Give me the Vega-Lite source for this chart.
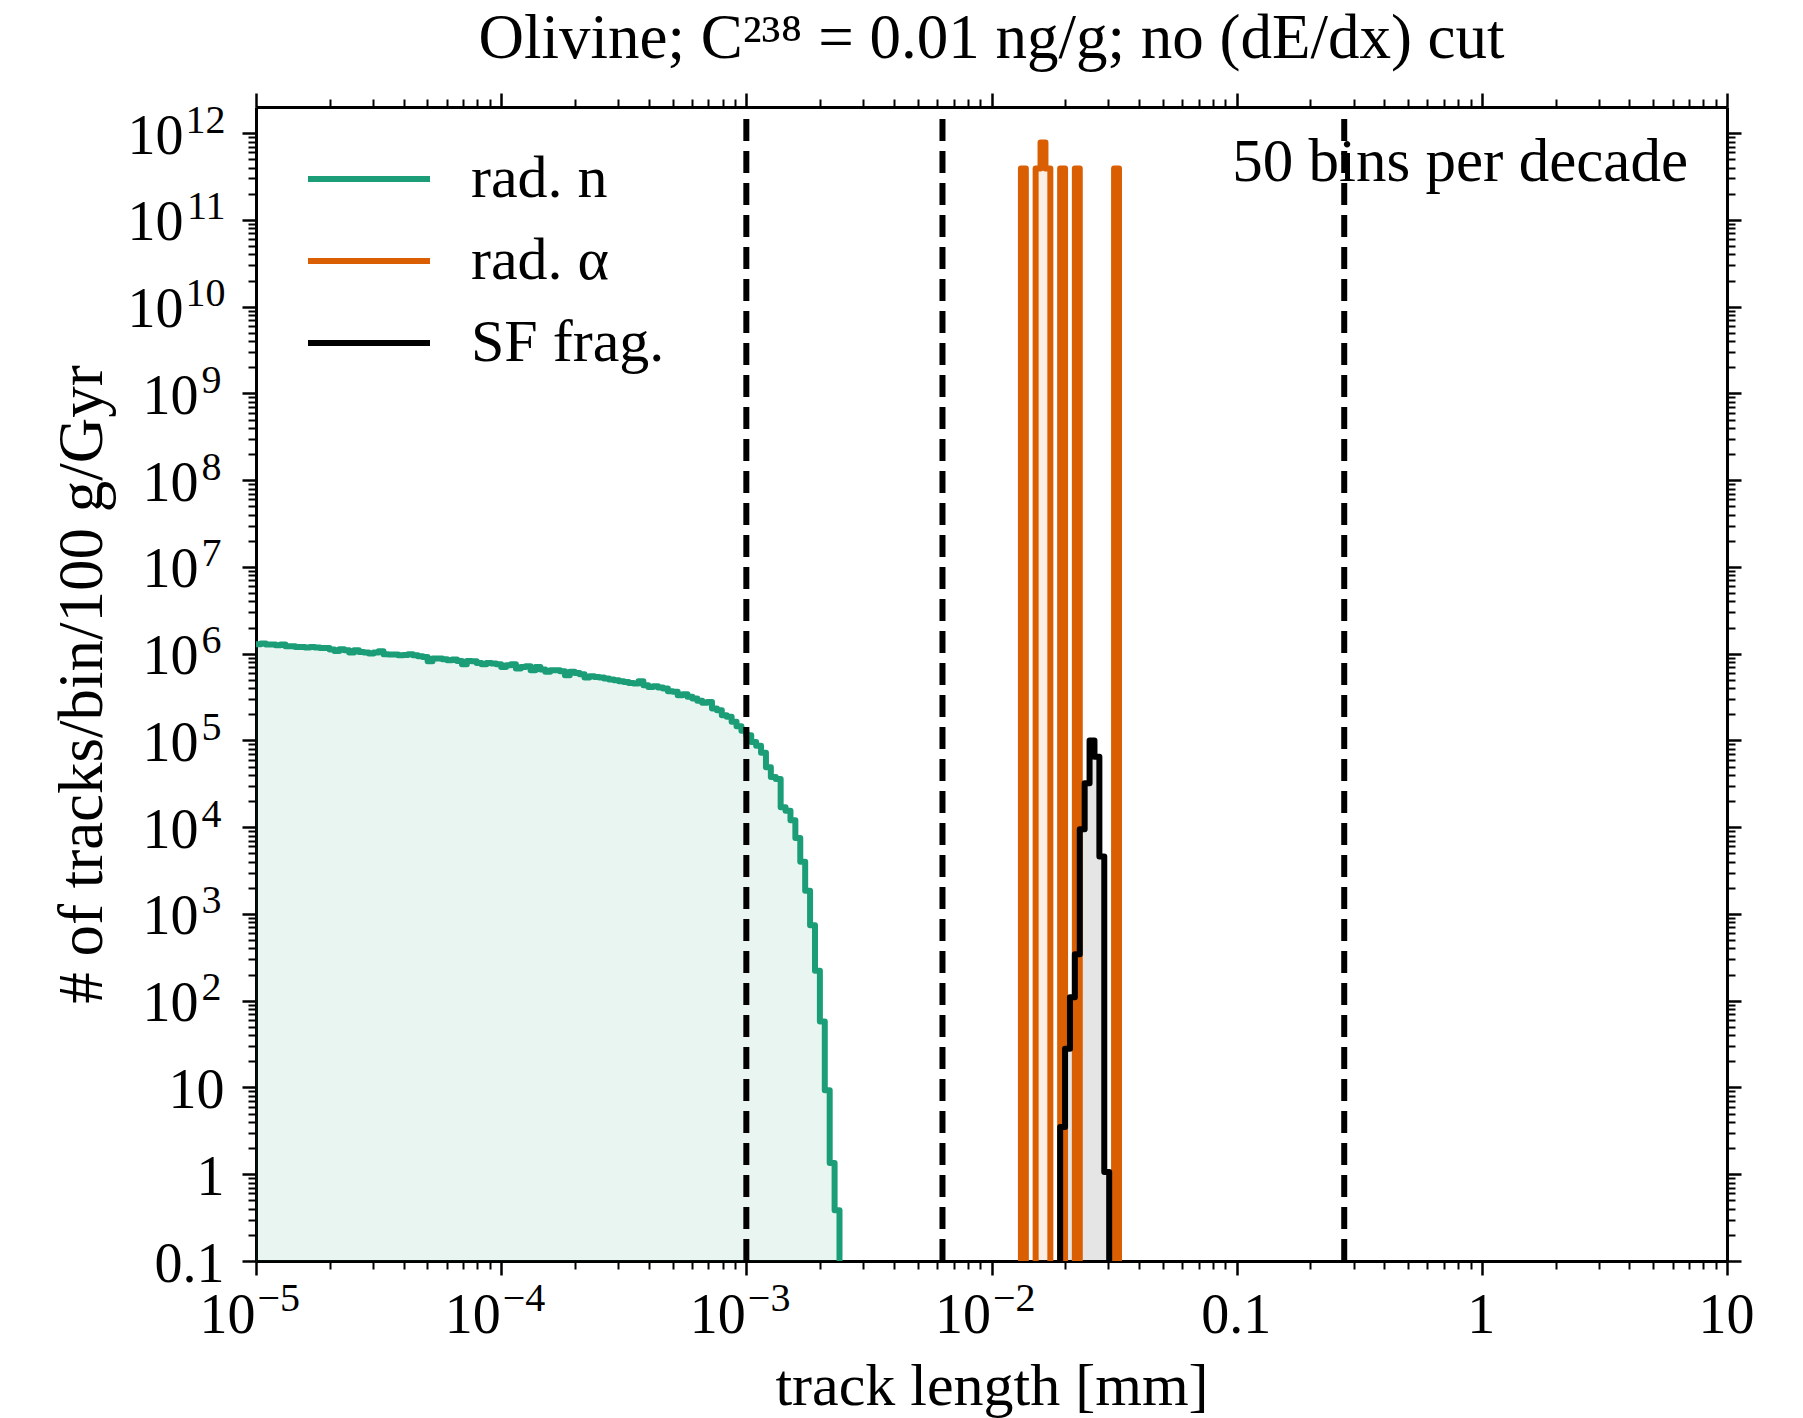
{
  "$schema": "https://vega.github.io/schema/vega-lite/v6.json",
  "width": 1471,
  "height": 1154,
  "autosize": {"type": "none"},
  "padding": {"left": 256, "top": 107, "right": 76, "bottom": 157},
  "background": "white",
  "title": {"text": "Olivine; C²³⁸ = 0.01 ng/g; no (dE/dx) cut", "font": "Liberation Serif", "fontSize": 63, "fontWeight": "normal", "color": "black", "anchor": "middle", "frame": "group", "baseline": "alphabetic", "offset": -29},
  "config": {
    "view": {"stroke": null},
    "axis": {"grid": false, "zindex": 1, "tickColor": "black", "domainColor": "black", "labelColor": "black", "labelFont": "Liberation Serif", "labelFlush": false, "labelOverlap": false, "tickWidth": 2.5, "domainWidth": 3, "titleFont": "Liberation Serif", "titleFontWeight": "normal", "titleColor": "black", "labelLimit": 400}
  },
  "datasets": {
    "hist": [
      {"s": "rad. n", "x": 1.0000e-5, "y": 1.285e6},
      {"s": "rad. n", "x": 1.0471e-5, "y": 1.307e6},
      {"s": "rad. n", "x": 1.0965e-5, "y": 1.273e6},
      {"s": "rad. n", "x": 1.1482e-5, "y": 1.273e6},
      {"s": "rad. n", "x": 1.2023e-5, "y": 1.251e6},
      {"s": "rad. n", "x": 1.2589e-5, "y": 1.273e6},
      {"s": "rad. n", "x": 1.3183e-5, "y": 1.218e6},
      {"s": "rad. n", "x": 1.3804e-5, "y": 1.218e6},
      {"s": "rad. n", "x": 1.4454e-5, "y": 1.197e6},
      {"s": "rad. n", "x": 1.5136e-5, "y": 1.197e6},
      {"s": "rad. n", "x": 1.5849e-5, "y": 1.176e6},
      {"s": "rad. n", "x": 1.6596e-5, "y": 1.197e6},
      {"s": "rad. n", "x": 1.7378e-5, "y": 1.176e6},
      {"s": "rad. n", "x": 1.8197e-5, "y": 1.165e6},
      {"s": "rad. n", "x": 1.9055e-5, "y": 1.165e6},
      {"s": "rad. n", "x": 1.9953e-5, "y": 1.115e6},
      {"s": "rad. n", "x": 2.0893e-5, "y": 1.076e6},
      {"s": "rad. n", "x": 2.1878e-5, "y": 1.125e6},
      {"s": "rad. n", "x": 2.2909e-5, "y": 1.095e6},
      {"s": "rad. n", "x": 2.3988e-5, "y": 1.029e6},
      {"s": "rad. n", "x": 2.5119e-5, "y": 1.095e6},
      {"s": "rad. n", "x": 2.6303e-5, "y": 1.048e6},
      {"s": "rad. n", "x": 2.7542e-5, "y": 1.029e6},
      {"s": "rad. n", "x": 2.8840e-5, "y": 1.003e6},
      {"s": "rad. n", "x": 3.0200e-5, "y": 1.029e6},
      {"s": "rad. n", "x": 3.1623e-5, "y": 1.067e6},
      {"s": "rad. n", "x": 3.3113e-5, "y": 9.85e5},
      {"s": "rad. n", "x": 3.4674e-5, "y": 9.76e5},
      {"s": "rad. n", "x": 3.6308e-5, "y": 9.76e5},
      {"s": "rad. n", "x": 3.8019e-5, "y": 9.59e5},
      {"s": "rad. n", "x": 3.9811e-5, "y": 9.67e5},
      {"s": "rad. n", "x": 4.1687e-5, "y": 9.85e5},
      {"s": "rad. n", "x": 4.3652e-5, "y": 9.59e5},
      {"s": "rad. n", "x": 4.5709e-5, "y": 9.34e5},
      {"s": "rad. n", "x": 4.7863e-5, "y": 9.18e5},
      {"s": "rad. n", "x": 5.0119e-5, "y": 8.18e5},
      {"s": "rad. n", "x": 5.2481e-5, "y": 8.78e5},
      {"s": "rad. n", "x": 5.4954e-5, "y": 8.78e5},
      {"s": "rad. n", "x": 5.7544e-5, "y": 8.63e5},
      {"s": "rad. n", "x": 6.0256e-5, "y": 8.40e5},
      {"s": "rad. n", "x": 6.3096e-5, "y": 8.55e5},
      {"s": "rad. n", "x": 6.6069e-5, "y": 8.25e5},
      {"s": "rad. n", "x": 6.9183e-5, "y": 7.55e5},
      {"s": "rad. n", "x": 7.2444e-5, "y": 8.25e5},
      {"s": "rad. n", "x": 7.5858e-5, "y": 8.18e5},
      {"s": "rad. n", "x": 7.9433e-5, "y": 7.82e5},
      {"s": "rad. n", "x": 8.3176e-5, "y": 7.55e5},
      {"s": "rad. n", "x": 8.7096e-5, "y": 7.82e5},
      {"s": "rad. n", "x": 9.1201e-5, "y": 7.69e5},
      {"s": "rad. n", "x": 9.5499e-5, "y": 7.55e5},
      {"s": "rad. n", "x": 1.0000e-4, "y": 7.04e5},
      {"s": "rad. n", "x": 1.0471e-4, "y": 7.36e5},
      {"s": "rad. n", "x": 1.0965e-4, "y": 7.55e5},
      {"s": "rad. n", "x": 1.1482e-4, "y": 6.74e5},
      {"s": "rad. n", "x": 1.2023e-4, "y": 7.04e5},
      {"s": "rad. n", "x": 1.2589e-4, "y": 7.17e5},
      {"s": "rad. n", "x": 1.3183e-4, "y": 6.45e5},
      {"s": "rad. n", "x": 1.3804e-4, "y": 7.04e5},
      {"s": "rad. n", "x": 1.4454e-4, "y": 6.56e5},
      {"s": "rad. n", "x": 1.5136e-4, "y": 6.17e5},
      {"s": "rad. n", "x": 1.5849e-4, "y": 6.45e5},
      {"s": "rad. n", "x": 1.6596e-4, "y": 6.45e5},
      {"s": "rad. n", "x": 1.7378e-4, "y": 6.28e5},
      {"s": "rad. n", "x": 1.8197e-4, "y": 5.64e5},
      {"s": "rad. n", "x": 1.9055e-4, "y": 6.17e5},
      {"s": "rad. n", "x": 1.9953e-4, "y": 6.00e5},
      {"s": "rad. n", "x": 2.0893e-4, "y": 5.79e5},
      {"s": "rad. n", "x": 2.1878e-4, "y": 5.30e5},
      {"s": "rad. n", "x": 2.2909e-4, "y": 5.50e5},
      {"s": "rad. n", "x": 2.3988e-4, "y": 5.40e5},
      {"s": "rad. n", "x": 2.5119e-4, "y": 5.30e5},
      {"s": "rad. n", "x": 2.6303e-4, "y": 5.17e5},
      {"s": "rad. n", "x": 2.7542e-4, "y": 5.03e5},
      {"s": "rad. n", "x": 2.8840e-4, "y": 4.94e5},
      {"s": "rad. n", "x": 3.0200e-4, "y": 4.81e5},
      {"s": "rad. n", "x": 3.1623e-4, "y": 4.73e5},
      {"s": "rad. n", "x": 3.3113e-4, "y": 4.60e5},
      {"s": "rad. n", "x": 3.4674e-4, "y": 4.52e5},
      {"s": "rad. n", "x": 3.6308e-4, "y": 4.81e5},
      {"s": "rad. n", "x": 3.8019e-4, "y": 4.33e5},
      {"s": "rad. n", "x": 3.9811e-4, "y": 4.14e5},
      {"s": "rad. n", "x": 4.1687e-4, "y": 4.22e5},
      {"s": "rad. n", "x": 4.3652e-4, "y": 4.07e5},
      {"s": "rad. n", "x": 4.5709e-4, "y": 3.96e5},
      {"s": "rad. n", "x": 4.7863e-4, "y": 3.69e5},
      {"s": "rad. n", "x": 5.0119e-4, "y": 3.63e5},
      {"s": "rad. n", "x": 5.2481e-4, "y": 3.32e5},
      {"s": "rad. n", "x": 5.4954e-4, "y": 3.41e5},
      {"s": "rad. n", "x": 5.7544e-4, "y": 3.18e5},
      {"s": "rad. n", "x": 6.0256e-4, "y": 3.04e5},
      {"s": "rad. n", "x": 6.3096e-4, "y": 2.86e5},
      {"s": "rad. n", "x": 6.6069e-4, "y": 2.71e5},
      {"s": "rad. n", "x": 6.9183e-4, "y": 2.78e5},
      {"s": "rad. n", "x": 7.2444e-4, "y": 2.33e5},
      {"s": "rad. n", "x": 7.5858e-4, "y": 2.23e5},
      {"s": "rad. n", "x": 7.9433e-4, "y": 1.95e5},
      {"s": "rad. n", "x": 8.3176e-4, "y": 1.87e5},
      {"s": "rad. n", "x": 8.7096e-4, "y": 1.64e5},
      {"s": "rad. n", "x": 9.1201e-4, "y": 1.46e5},
      {"s": "rad. n", "x": 9.5499e-4, "y": 1.29e5},
      {"s": "rad. n", "x": 1.0000e-3, "y": 1.15e5},
      {"s": "rad. n", "x": 1.0471e-3, "y": 9.6e4},
      {"s": "rad. n", "x": 1.0965e-3, "y": 8.7e4},
      {"s": "rad. n", "x": 1.1482e-3, "y": 7.2e4},
      {"s": "rad. n", "x": 1.2023e-3, "y": 4.9e4},
      {"s": "rad. n", "x": 1.2589e-3, "y": 3.8e4},
      {"s": "rad. n", "x": 1.3183e-3, "y": 3.6e4},
      {"s": "rad. n", "x": 1.3804e-3, "y": 1.7e4},
      {"s": "rad. n", "x": 1.4454e-3, "y": 1.55e4},
      {"s": "rad. n", "x": 1.5136e-3, "y": 1.2e4},
      {"s": "rad. n", "x": 1.5849e-3, "y": 7.5e3},
      {"s": "rad. n", "x": 1.6596e-3, "y": 4.0e3},
      {"s": "rad. n", "x": 1.7378e-3, "y": 1.85e3},
      {"s": "rad. n", "x": 1.8197e-3, "y": 741},
      {"s": "rad. n", "x": 1.9055e-3, "y": 222},
      {"s": "rad. n", "x": 1.9953e-3, "y": 57.5},
      {"s": "rad. n", "x": 2.0893e-3, "y": 9.3},
      {"s": "rad. n", "x": 2.1878e-3, "y": 1.35},
      {"s": "rad. n", "x": 2.2909e-3, "y": 0.385},
      {"s": "rad. n", "x": 2.3988e-3, "y": 0.01},
      {"s": "rad. α", "x": 0.012589, "y": 0.01},
      {"s": "rad. α", "x": 0.013183, "y": 3.9e11},
      {"s": "rad. α", "x": 0.013804, "y": 0.01},
      {"s": "rad. α", "x": 0.015136, "y": 3.9e11},
      {"s": "rad. α", "x": 0.015849, "y": 7.8e11},
      {"s": "rad. α", "x": 0.016596, "y": 3.9e11},
      {"s": "rad. α", "x": 0.017378, "y": 0.01},
      {"s": "rad. α", "x": 0.019055, "y": 3.9e11},
      {"s": "rad. α", "x": 0.019953, "y": 0.01},
      {"s": "rad. α", "x": 0.021878, "y": 3.9e11},
      {"s": "rad. α", "x": 0.022909, "y": 0.01},
      {"s": "rad. α", "x": 0.031623, "y": 3.9e11},
      {"s": "rad. α", "x": 0.033113, "y": 0.01},
      {"s": "SF frag.", "x": 0.018197, "y": 0.01},
      {"s": "SF frag.", "x": 0.019055, "y": 3.5},
      {"s": "SF frag.", "x": 0.019953, "y": 28},
      {"s": "SF frag.", "x": 0.020893, "y": 110},
      {"s": "SF frag.", "x": 0.021878, "y": 343},
      {"s": "SF frag.", "x": 0.022909, "y": 9500},
      {"s": "SF frag.", "x": 0.023988, "y": 32000},
      {"s": "SF frag.", "x": 0.025119, "y": 100000},
      {"s": "SF frag.", "x": 0.026303, "y": 65000},
      {"s": "SF frag.", "x": 0.027542, "y": 4600},
      {"s": "SF frag.", "x": 0.028840, "y": 1.06},
      {"s": "SF frag.", "x": 0.030200, "y": 0.01}
    ],
    "cuts": [{"x": 0.001}, {"x": 0.00631}, {"x": 0.2746}],
    "note": [{"x": 6.93, "y": 2.77e11, "label": "50 bins per decade"}]
  },
  "layer": [
    {
      "data": {"name": "hist"},
      "transform": [{"filter": "datum.s === 'rad. n'"}],
      "mark": {"type": "area", "interpolate": "step-after", "color": "#1b9e77", "opacity": 0.1, "clip": true},
      "encoding": {
        "x": {"field": "x", "type": "quantitative", "scale": {"type": "log", "domain": [1e-5, 10], "nice": false},
          "axis": {"orient": "bottom", "values": [1e-5, 1e-4, 1e-3, 0.01, 0.1, 1, 10],
            "labelExpr": "datum.value < 0.05 ? '10' : (datum.value < 0.5 ? '0.1' : (datum.value < 5 ? '1' : '10'))",
            "labelAlign": {"condition": {"test": "datum.value < 0.05", "value": "right"}, "value": "center"},
            "labelBaseline": "alphabetic", "labelPadding": 57, "labelFontSize": 56, "labelOffset": -1,
            "tickSize": 14, "domain": true,
            "title": "track length [mm]", "titleFontSize": 60, "titleBaseline": "alphabetic", "titleY": 143}},
        "y": {"field": "y", "type": "quantitative", "scale": {"type": "log", "domain": [0.1, 2e12], "nice": false},
          "axis": {"orient": "left", "values": [0.1, 1, 10, 100, 1e3, 1e4, 1e5, 1e6, 1e7, 1e8, 1e9, 1e10, 1e11, 1e12],
            "labelExpr": "datum.value < 0.5 ? '0.1' : (datum.value < 5 ? '1' : '10')",
            "labelAlign": "right", "labelBaseline": "alphabetic", "labelOffset": 20, "labelFontSize": 56,
            "labelPadding": {"condition": [{"test": "datum.value >= 1e10", "value": 59}, {"test": "datum.value >= 100", "value": 44}], "value": 18},
            "tickSize": 14, "domain": true,
            "title": "# of tracks/bin/100 g/Gyr", "titleFontSize": 63, "titleBaseline": "alphabetic", "titleX": -155}},
        "y2": {"datum": 0.1}
      }
    },
    {
      "data": {"name": "hist"},
      "transform": [{"filter": "datum.s === 'rad. α'"}],
      "mark": {"type": "area", "interpolate": "step-after", "color": "#d95f02", "opacity": 0.1, "clip": true},
      "encoding": {
        "x": {"field": "x", "type": "quantitative", "scale": {"type": "log", "domain": [1e-5, 10], "nice": false},
          "axis": {"orient": "bottom", "values": [1e-5, 1e-4, 1e-3, 0.01],
            "labelExpr": "'−' + round(-log(datum.value)/LN10)",
            "labelAlign": "left", "labelBaseline": "alphabetic", "labelPadding": 35, "labelFontSize": 40, "labelOffset": 1,
            "tickSize": 14, "tickColor": "transparent", "domain": false, "title": null}},
        "y": {"field": "y", "type": "quantitative", "scale": {"type": "log", "domain": [0.1, 2e12], "nice": false},
          "axis": {"orient": "left", "values": [100, 1e3, 1e4, 1e5, 1e6, 1e7, 1e8, 1e9, 1e10, 1e11, 1e12],
            "labelExpr": "'' + round(log(datum.value)/LN10)",
            "labelAlign": "right", "labelBaseline": "alphabetic", "labelOffset": -1, "labelFontSize": 40,
            "labelPadding": {"condition": {"test": "datum.value >= 1e10", "value": 17}, "value": 21},
            "tickSize": 14, "tickColor": "transparent", "domain": false, "title": null}},
        "y2": {"datum": 0.1}
      }
    },
    {
      "data": {"name": "hist"},
      "transform": [{"filter": "datum.s === 'SF frag.'"}],
      "mark": {"type": "area", "interpolate": "step-after", "color": "#000000", "opacity": 0.1, "clip": true},
      "encoding": {
        "x": {"field": "x", "type": "quantitative", "scale": {"type": "log", "domain": [1e-5, 10], "nice": false},
          "axis": {"orient": "bottom", "values": [2e-5, 3e-5, 4e-5, 5e-5, 6e-5, 7e-5, 8e-5, 9e-5, 2e-4, 3e-4, 4e-4, 5e-4, 6e-4, 7e-4, 8e-4, 9e-4, 2e-3, 3e-3, 4e-3, 5e-3, 6e-3, 7e-3, 8e-3, 9e-3, 0.02, 0.03, 0.04, 0.05, 0.06, 0.07, 0.08, 0.09, 0.2, 0.3, 0.4, 0.5, 0.6, 0.7, 0.8, 0.9, 2, 3, 4, 5, 6, 7, 8, 9],
            "labels": false, "tickSize": 8, "tickWidth": 2, "domain": false, "title": null}},
        "y": {"field": "y", "type": "quantitative", "scale": {"type": "log", "domain": [0.1, 2e12], "nice": false},
          "axis": {"orient": "left", "values": [0.2, 0.3, 0.4, 0.5, 0.6, 0.7, 0.8, 0.9, 2, 3, 4, 5, 6, 7, 8, 9, 20, 30, 40, 50, 60, 70, 80, 90, 200, 300, 400, 500, 600, 700, 800, 900, 2e3, 3e3, 4e3, 5e3, 6e3, 7e3, 8e3, 9e3, 2e4, 3e4, 4e4, 5e4, 6e4, 7e4, 8e4, 9e4, 2e5, 3e5, 4e5, 5e5, 6e5, 7e5, 8e5, 9e5, 2e6, 3e6, 4e6, 5e6, 6e6, 7e6, 8e6, 9e6, 2e7, 3e7, 4e7, 5e7, 6e7, 7e7, 8e7, 9e7, 2e8, 3e8, 4e8, 5e8, 6e8, 7e8, 8e8, 9e8, 2e9, 3e9, 4e9, 5e9, 6e9, 7e9, 8e9, 9e9, 2e10, 3e10, 4e10, 5e10, 6e10, 7e10, 8e10, 9e10, 2e11, 3e11, 4e11, 5e11, 6e11, 7e11, 8e11, 9e11],
            "labels": false, "tickSize": 8, "tickWidth": 2, "domain": false, "title": null}},
        "y2": {"datum": 0.1}
      }
    },
    {
      "data": {"name": "hist"},
      "mark": {"type": "line", "interpolate": "step-after", "strokeWidth": 6, "strokeJoin": "round", "strokeCap": "round", "clip": true},
      "encoding": {
        "x": {"field": "x", "type": "quantitative", "scale": {"type": "log", "domain": [1e-5, 10], "nice": false},
          "axis": {"orient": "top", "values": [1e-5, 1e-4, 1e-3, 0.01, 0.1, 1, 10], "labels": false, "tickSize": 14, "domain": true, "title": null}},
        "y": {"field": "y", "type": "quantitative", "scale": {"type": "log", "domain": [0.1, 2e12], "nice": false},
          "axis": {"orient": "right", "values": [0.1, 1, 10, 100, 1e3, 1e4, 1e5, 1e6, 1e7, 1e8, 1e9, 1e10, 1e11, 1e12], "labels": false, "tickSize": 14, "domain": true, "title": null}},
        "color": {"field": "s", "type": "nominal",
          "scale": {"domain": ["rad. n", "rad. α", "SF frag."], "range": ["#1b9e77", "#d95f02", "#000000"]},
          "legend": {"orient": "none", "legendX": 49, "legendY": 32, "title": null, "symbolType": "stroke", "symbolSize": 14884, "symbolStrokeWidth": 6, "symbolOpacity": 1,
            "labelFont": "Liberation Serif", "labelFontSize": 60, "labelColor": "black", "labelOffset": 38, "clipHeight": 80, "rowPadding": 2, "padding": 0, "labelLimit": 400}}
      }
    },
    {
      "data": {"name": "cuts"},
      "mark": {"type": "rule", "color": "black", "strokeWidth": 6, "strokeDash": [22, 10]},
      "encoding": {
        "x": {"field": "x", "type": "quantitative", "scale": {"type": "log", "domain": [1e-5, 10], "nice": false},
          "axis": {"orient": "top", "values": [2e-5, 3e-5, 4e-5, 5e-5, 6e-5, 7e-5, 8e-5, 9e-5, 2e-4, 3e-4, 4e-4, 5e-4, 6e-4, 7e-4, 8e-4, 9e-4, 2e-3, 3e-3, 4e-3, 5e-3, 6e-3, 7e-3, 8e-3, 9e-3, 0.02, 0.03, 0.04, 0.05, 0.06, 0.07, 0.08, 0.09, 0.2, 0.3, 0.4, 0.5, 0.6, 0.7, 0.8, 0.9, 2, 3, 4, 5, 6, 7, 8, 9],
            "labels": false, "tickSize": 8, "tickWidth": 2, "domain": false, "title": null}},
        "y": {"datum": 0.1, "type": "quantitative", "scale": {"type": "log", "domain": [0.1, 2e12], "nice": false},
          "axis": {"orient": "right", "values": [0.2, 0.3, 0.4, 0.5, 0.6, 0.7, 0.8, 0.9, 2, 3, 4, 5, 6, 7, 8, 9, 20, 30, 40, 50, 60, 70, 80, 90, 200, 300, 400, 500, 600, 700, 800, 900, 2e3, 3e3, 4e3, 5e3, 6e3, 7e3, 8e3, 9e3, 2e4, 3e4, 4e4, 5e4, 6e4, 7e4, 8e4, 9e4, 2e5, 3e5, 4e5, 5e5, 6e5, 7e5, 8e5, 9e5, 2e6, 3e6, 4e6, 5e6, 6e6, 7e6, 8e6, 9e6, 2e7, 3e7, 4e7, 5e7, 6e7, 7e7, 8e7, 9e7, 2e8, 3e8, 4e8, 5e8, 6e8, 7e8, 8e8, 9e8, 2e9, 3e9, 4e9, 5e9, 6e9, 7e9, 8e9, 9e9, 2e10, 3e10, 4e10, 5e10, 6e10, 7e10, 8e10, 9e10, 2e11, 3e11, 4e11, 5e11, 6e11, 7e11, 8e11, 9e11],
            "labels": false, "tickSize": 8, "tickWidth": 2, "domain": false, "title": null}},
        "y2": {"datum": 2e12}
      }
    },
    {
      "data": {"name": "note"},
      "mark": {"type": "text", "align": "right", "baseline": "alphabetic", "font": "Liberation Serif", "fontSize": 61, "color": "black"},
      "encoding": {
        "x": {"field": "x", "type": "quantitative", "scale": {"type": "log", "domain": [1e-5, 10], "nice": false}, "axis": null},
        "y": {"field": "y", "type": "quantitative", "scale": {"type": "log", "domain": [0.1, 2e12], "nice": false}, "axis": null},
        "text": {"field": "label"}
      }
    }
  ],
  "resolve": {"axis": {"x": "independent", "y": "independent"}}
}
